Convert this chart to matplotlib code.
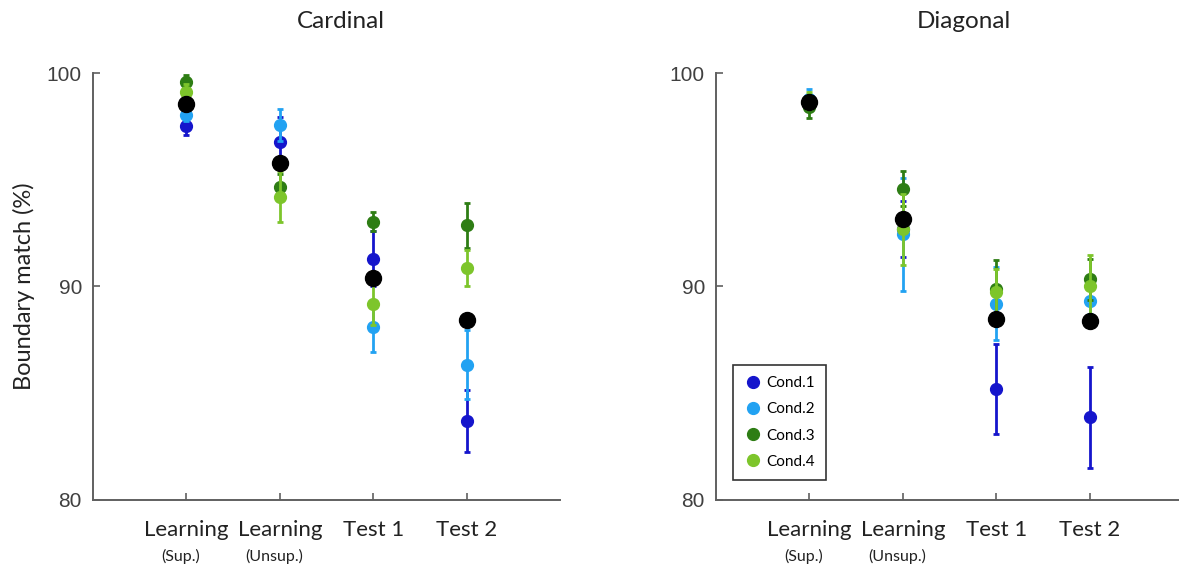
import matplotlib
matplotlib.use("Agg")
import matplotlib.pyplot as plt
import matplotlib.transforms as mtransforms
from matplotlib.lines import Line2D

# ---- data ----
phases = ["Learning", "Learning", "Test 1", "Test 2"]
phase_sub = ["(Sup.)", "(Unsup.)", "", ""]
cond_names = ["Cond.1", "Cond.2", "Cond.3", "Cond.4"]
cond_colors = ["#1515CC", "#22A2F2", "#2E7D14", "#7DC52B"]

card_vals = [[97.53, 96.75, 91.31, 83.71],
             [98.03, 97.56, 88.11, 86.34],
             [99.56, 94.66, 93.04, 92.86],
             [99.09, 94.20, 89.19, 90.85]]
card_err = [[0.45, 1.2, 1.3, 1.45],
            [0.3, 0.75, 1.2, 1.6],
            [0.35, 0.6, 0.45, 1.05],
            [0.4, 1.2, 1.0, 0.85]]
card_mean = [98.54, 95.77, 90.40, 88.45]

diag_vals = [[98.60, 92.70, 85.20, 83.87],
             [98.80, 92.44, 89.20, 89.31],
             [98.40, 94.59, 89.86, 90.33],
             [98.70, 92.68, 89.75, 90.02]]
diag_err = [[0.3, 1.3, 2.1, 2.35],
            [0.45, 2.65, 1.7, 0.6],
            [0.5, 0.82, 1.4, 0.95],
            [0.4, 1.65, 1.05, 1.45]]
diag_mean = [98.62, 93.15, 88.48, 88.37]

xpos = [1, 2, 3, 4]
axis_gray = "#606060"
txt_font = ["Lato", "DejaVu Sans"]

fig = plt.figure(figsize=(11.79, 5.69), dpi=100)
ax1 = fig.add_axes([0.0789, 0.1213, 0.396, 0.7504])
ax2 = fig.add_axes([0.6073, 0.1213, 0.396, 0.7504])


def draw_panel(ax, vals, errs, means, title, legend=False):
    for i in range(4):
        ax.errorbar(xpos, vals[i], yerr=errs[i], fmt="o", color=cond_colors[i],
                    ms=8.5, elinewidth=2, capsize=2.5, capthick=2,
                    label=cond_names[i], zorder=2 + i)
    ax.plot(xpos, means, "o", color="black", ms=11.5, zorder=10)

    ax.set_xlim(0, 5)
    ax.set_ylim(80, 100)
    ax.set_yticks([80, 90, 100])
    ax.set_xticks(xpos)
    ax.set_xticklabels([])
    ax.tick_params(direction="in", length=5, color=axis_gray, width=1.2,
                   labelsize=15, labelcolor="#404040", pad=8)
    for lab in ax.get_yticklabels():
        lab.set_family(["Liberation Sans", "DejaVu Sans"])
    for s in ["top", "right"]:
        ax.spines[s].set_visible(False)
    for s in ["left", "bottom"]:
        ax.spines[s].set_color(axis_gray)
        ax.spines[s].set_linewidth(1.4)

    trans = mtransforms.blended_transform_factory(ax.transData, ax.transAxes)
    for x, lab, sub in zip(xpos, phases, phase_sub):
        ax.text(x, -0.07, lab, transform=trans, ha="center", va="center",
                fontsize=16, family=txt_font, color="#222222")
        if sub:
            ax.text(x - 0.06, -0.133, sub, transform=trans, ha="center", va="center",
                    fontsize=11.5, family=txt_font, color="#222222")

    ax.text(0.53, 1.12, title, transform=ax.transAxes, ha="center", va="center",
            fontsize=17.5, family=txt_font, color="#222222")

    if legend:
        handles = [Line2D([], [], marker="o", ls="none", color=c, ms=8.5)
                   for c in cond_colors]
        leg = ax.legend(handles, cond_names, loc="lower left",
                        bbox_to_anchor=(0.02, 0.03), frameon=True, fancybox=False,
                        handletextpad=0.3, handlelength=1.2,
                        labelspacing=0.8, borderpad=0.7,
                        prop={"family": txt_font, "size": 11})
        leg.get_frame().set_edgecolor("black")
        leg.get_frame().set_linewidth(1.2)


draw_panel(ax1, card_vals, card_err, card_mean, "Cardinal")
draw_panel(ax2, diag_vals, diag_err, diag_mean, "Diagonal", legend=True)

ax1.set_ylabel("Boundary match (%)", fontsize=17, family=txt_font, color="#222222")
ax1.yaxis.set_label_coords(-0.125, 0.5)

fig.savefig("out.png", dpi=100)
